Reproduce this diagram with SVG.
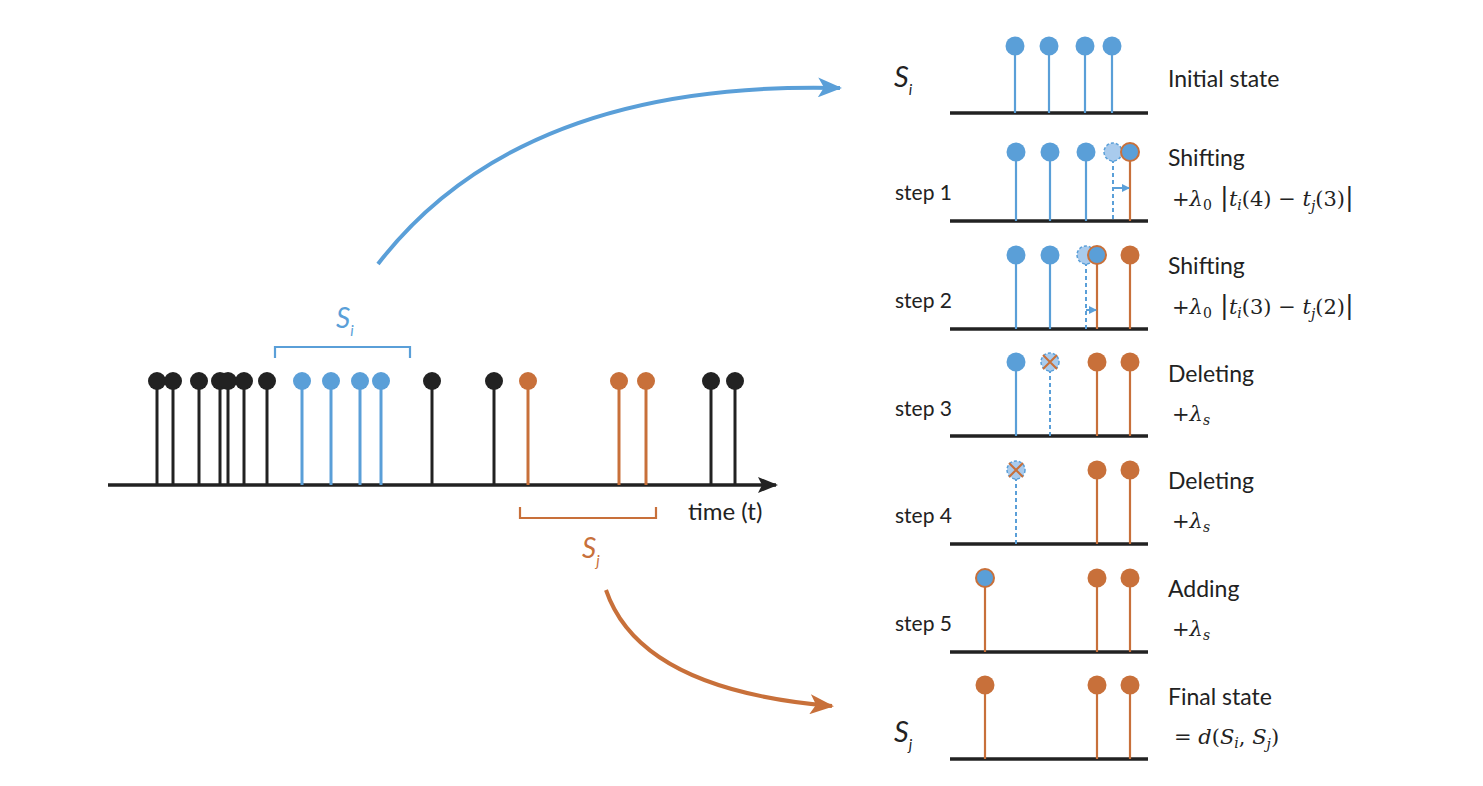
<svg xmlns="http://www.w3.org/2000/svg" width="1483" height="786" viewBox="0 0 1483 786">
<defs>
<style>
.ax{stroke:#222;stroke-width:3.5;fill:none}
.bk{stroke:#222;stroke-width:3}
.bl{stroke:#5a9fd8;stroke-width:3}
.or{stroke:#c8703a;stroke-width:3}
.bls{stroke:#5a9fd8;stroke-width:2.2}
.ors{stroke:#c8703a;stroke-width:2.2}
.dash{stroke:#5a9fd8;stroke-width:2;stroke-dasharray:4 3}
.dk{fill:#222}
.db{fill:#5a9fd8}
.do{fill:#c8703a}
.dob{fill:#5a9fd8;stroke:#c8703a;stroke-width:2}
.gh{fill:#a9cbed;stroke:#5a9fd8;stroke-width:1.5;stroke-dasharray:3 2}
.x{stroke:#c8703a;stroke-width:2}
.t{font-family:Lato,"Noto Sans",sans-serif;fill:#222}
.m{font-family:"DejaVu Serif","Liberation Serif",serif;fill:#222;font-size:21px}
.mi{font-style:italic}
</style>
<marker id="abl" viewBox="0 0 24 20" refX="22" refY="10" markerWidth="24" markerHeight="20" markerUnits="userSpaceOnUse" orient="auto">
<path d="M0,0 L24,10 L0,20 L6,10 Z" fill="#5a9fd8"/>
</marker>
<marker id="aor" viewBox="0 0 24 20" refX="22" refY="10" markerWidth="24" markerHeight="20" markerUnits="userSpaceOnUse" orient="auto">
<path d="M0,0 L24,10 L0,20 L6,10 Z" fill="#c8703a"/>
</marker>
<marker id="abk" viewBox="0 0 20 16" refX="18" refY="8" markerWidth="20" markerHeight="16" markerUnits="userSpaceOnUse" orient="auto">
<path d="M0,0 L20,8 L0,16 L4,8 Z" fill="#222"/>
</marker>
<marker id="sm" viewBox="0 0 8 8" refX="7" refY="4" markerWidth="8" markerHeight="8" markerUnits="userSpaceOnUse" orient="auto">
<path d="M0,0 L8,4 L0,8 Z" fill="#5a9fd8"/>
</marker>
</defs>

<g id="connectors">
<path d="M378,264 Q520,80 840,88" fill="none" stroke="#5a9fd8" stroke-width="4" marker-end="url(#abl)"/>
<path d="M606,590 Q640,690 832,706" fill="none" stroke="#c8703a" stroke-width="4" marker-end="url(#aor)"/>
</g>

<g id="timeline">
<line x1="108" y1="485" x2="776" y2="485" class="ax" marker-end="url(#abk)"/>
<g class="bk">
<line x1="157" y1="381" x2="157" y2="485"/><line x1="173" y1="381" x2="173" y2="485"/>
<line x1="199" y1="381" x2="199" y2="485"/><line x1="220" y1="381" x2="220" y2="485"/>
<line x1="228" y1="381" x2="228" y2="485"/><line x1="244" y1="381" x2="244" y2="485"/>
<line x1="267" y1="381" x2="267" y2="485"/><line x1="432" y1="381" x2="432" y2="485"/>
<line x1="494" y1="381" x2="494" y2="485"/><line x1="711" y1="381" x2="711" y2="485"/>
<line x1="735" y1="381" x2="735" y2="485"/>
</g>
<g class="dk">
<circle cx="157" cy="381" r="9"/><circle cx="173" cy="381" r="9"/><circle cx="199" cy="381" r="9"/>
<circle cx="220" cy="381" r="9"/><circle cx="228" cy="381" r="9"/><circle cx="244" cy="381" r="9"/>
<circle cx="267" cy="381" r="9"/><circle cx="432" cy="381" r="9"/><circle cx="494" cy="381" r="9"/>
<circle cx="711" cy="381" r="9"/><circle cx="735" cy="381" r="9"/>
</g>
<g class="bl">
<line x1="302" y1="381" x2="302" y2="485"/><line x1="331" y1="381" x2="331" y2="485"/>
<line x1="360" y1="381" x2="360" y2="485"/><line x1="381" y1="381" x2="381" y2="485"/>
</g>
<g class="db">
<circle cx="302" cy="381" r="9"/><circle cx="331" cy="381" r="9"/><circle cx="360" cy="381" r="9"/><circle cx="381" cy="381" r="9"/>
</g>
<g class="or">
<line x1="528" y1="381" x2="528" y2="485"/><line x1="619" y1="381" x2="619" y2="485"/><line x1="646" y1="381" x2="646" y2="485"/>
</g>
<g class="do">
<circle cx="528" cy="381" r="9"/><circle cx="619" cy="381" r="9"/><circle cx="646" cy="381" r="9"/>
</g>
<text x="688" y="520" class="t" font-size="24">time (t)</text>
</g>

<g id="bracket-si">
<path d="M275,358 V347 H410 V358" fill="none" stroke="#5a9fd8" stroke-width="2.2"/>
<text x="336" y="328" font-family="Lato,'Noto Sans',sans-serif" font-style="italic" font-size="28" fill="#5a9fd8">S<tspan font-size="15" dy="8">i</tspan></text>
</g>
<g id="bracket-sj">
<path d="M520,507 V518 H656 V507" fill="none" stroke="#c8703a" stroke-width="2.2"/>
<text x="582" y="558" font-family="Lato,'Noto Sans',sans-serif" font-style="italic" font-size="28" fill="#c8703a">S<tspan font-size="15" dy="8">j</tspan></text>
</g>

<g id="panel-initial">
<line x1="950" y1="113" x2="1148" y2="113" class="ax"/>
<g class="bls"><line x1="1015" y1="46" x2="1015" y2="113"/><line x1="1049" y1="46" x2="1049" y2="113"/><line x1="1085" y1="46" x2="1085" y2="113"/><line x1="1112" y1="46" x2="1112" y2="113"/></g>
<g class="db"><circle cx="1015" cy="46" r="9.5"/><circle cx="1049" cy="46" r="9.5"/><circle cx="1085" cy="46" r="9.5"/><circle cx="1112" cy="46" r="9.5"/></g>
<text x="894" y="87" class="t" font-style="italic" font-size="29">S<tspan font-size="15" dy="8">i</tspan></text>
<text x="1168" y="87" class="t" font-size="23">Initial state</text>
</g>

<g id="panel-step1">
<line x1="950" y1="221" x2="1148" y2="221" class="ax"/>
<g class="bls"><line x1="1016" y1="152" x2="1016" y2="221"/><line x1="1050" y1="152" x2="1050" y2="221"/><line x1="1086" y1="152" x2="1086" y2="221"/></g>
<line x1="1113" y1="152" x2="1113" y2="221" class="dash"/>
<line x1="1130" y1="152" x2="1130" y2="221" class="ors"/>
<line x1="1113" y1="188" x2="1129" y2="188" stroke="#5a9fd8" stroke-width="2" marker-end="url(#sm)"/>
<g class="db"><circle cx="1016" cy="152" r="9.5"/><circle cx="1050" cy="152" r="9.5"/><circle cx="1086" cy="152" r="9.5"/></g>
<circle cx="1113" cy="152" r="9" class="gh"/>
<circle cx="1130" cy="152" r="9" class="dob"/>
<text x="895" y="200" class="t" font-size="21">step 1</text>
<text x="1168" y="166" class="t" font-size="23">Shifting</text>
<text x="1172" y="206" class="m">+<tspan class="mi">λ</tspan><tspan font-size="14" dy="4">0</tspan><tspan dy="-4" font-size="26"> |</tspan><tspan class="mi">t</tspan><tspan class="mi" font-size="14" dy="4">i</tspan><tspan dy="-4">(4) − </tspan><tspan class="mi">t</tspan><tspan class="mi" font-size="14" dy="5">j</tspan><tspan dy="-5">(3)</tspan><tspan font-size="26">|</tspan></text>
</g>

<g id="panel-step2">
<line x1="950" y1="329" x2="1148" y2="329" class="ax"/>
<g class="bls"><line x1="1016" y1="255" x2="1016" y2="329"/><line x1="1050" y1="255" x2="1050" y2="329"/></g>
<line x1="1086" y1="255" x2="1086" y2="329" class="dash"/>
<line x1="1097" y1="255" x2="1097" y2="329" class="ors"/>
<line x1="1130" y1="255" x2="1130" y2="329" class="ors"/>
<line x1="1086" y1="310" x2="1096" y2="310" stroke="#5a9fd8" stroke-width="2" marker-end="url(#sm)"/>
<g class="db"><circle cx="1016" cy="255" r="9.5"/><circle cx="1050" cy="255" r="9.5"/></g>
<circle cx="1086" cy="255" r="9" class="gh"/>
<circle cx="1097" cy="255" r="9" class="dob"/>
<circle cx="1130" cy="255" r="9.5" class="do"/>
<text x="895" y="308" class="t" font-size="21">step 2</text>
<text x="1168" y="274" class="t" font-size="23">Shifting</text>
<text x="1172" y="314" class="m">+<tspan class="mi">λ</tspan><tspan font-size="14" dy="4">0</tspan><tspan dy="-4" font-size="26"> |</tspan><tspan class="mi">t</tspan><tspan class="mi" font-size="14" dy="4">i</tspan><tspan dy="-4">(3) − </tspan><tspan class="mi">t</tspan><tspan class="mi" font-size="14" dy="5">j</tspan><tspan dy="-5">(2)</tspan><tspan font-size="26">|</tspan></text>
</g>

<g id="panel-step3">
<line x1="950" y1="436" x2="1148" y2="436" class="ax"/>
<line x1="1016" y1="362" x2="1016" y2="436" class="bls"/>
<line x1="1050" y1="362" x2="1050" y2="436" class="dash"/>
<line x1="1097" y1="362" x2="1097" y2="436" class="ors"/>
<line x1="1130" y1="362" x2="1130" y2="436" class="ors"/>
<circle cx="1016" cy="362" r="9.5" class="db"/>
<circle cx="1050" cy="362" r="9" class="gh"/>
<path d="M1043,355 L1057,369 M1057,355 L1043,369" class="x"/>
<circle cx="1097" cy="362" r="9.5" class="do"/>
<circle cx="1130" cy="362" r="9.5" class="do"/>
<text x="895" y="416" class="t" font-size="21">step 3</text>
<text x="1168" y="382" class="t" font-size="23">Deleting</text>
<text x="1172" y="421" class="m">+<tspan class="mi">λ</tspan><tspan class="mi" font-size="14" dy="4">s</tspan></text>
</g>

<g id="panel-step4">
<line x1="950" y1="544" x2="1148" y2="544" class="ax"/>
<line x1="1016" y1="470" x2="1016" y2="544" class="dash"/>
<line x1="1097" y1="470" x2="1097" y2="544" class="ors"/>
<line x1="1130" y1="470" x2="1130" y2="544" class="ors"/>
<circle cx="1016" cy="470" r="9" class="gh"/>
<path d="M1009,463 L1023,477 M1023,463 L1009,477" class="x"/>
<circle cx="1097" cy="470" r="9.5" class="do"/>
<circle cx="1130" cy="470" r="9.5" class="do"/>
<text x="895" y="523" class="t" font-size="21">step 4</text>
<text x="1168" y="489" class="t" font-size="23">Deleting</text>
<text x="1172" y="528" class="m">+<tspan class="mi">λ</tspan><tspan class="mi" font-size="14" dy="4">s</tspan></text>
</g>

<g id="panel-step5">
<line x1="950" y1="652" x2="1148" y2="652" class="ax"/>
<line x1="985" y1="578" x2="985" y2="652" class="ors"/>
<line x1="1097" y1="578" x2="1097" y2="652" class="ors"/>
<line x1="1130" y1="578" x2="1130" y2="652" class="ors"/>
<circle cx="985" cy="578" r="9" class="dob"/>
<circle cx="1097" cy="578" r="9.5" class="do"/>
<circle cx="1130" cy="578" r="9.5" class="do"/>
<text x="895" y="631" class="t" font-size="21">step 5</text>
<text x="1168" y="597" class="t" font-size="23">Adding</text>
<text x="1172" y="636" class="m">+<tspan class="mi">λ</tspan><tspan class="mi" font-size="14" dy="4">s</tspan></text>
</g>

<g id="panel-final">
<line x1="950" y1="759" x2="1148" y2="759" class="ax"/>
<line x1="985" y1="685" x2="985" y2="759" class="ors"/>
<line x1="1097" y1="685" x2="1097" y2="759" class="ors"/>
<line x1="1130" y1="685" x2="1130" y2="759" class="ors"/>
<circle cx="985" cy="685" r="9.5" class="do"/>
<circle cx="1097" cy="685" r="9.5" class="do"/>
<circle cx="1130" cy="685" r="9.5" class="do"/>
<text x="894" y="742" class="t" font-style="italic" font-size="29">S<tspan font-size="15" dy="8">j</tspan></text>
<text x="1168" y="705" class="t" font-size="23">Final state</text>
<text x="1174" y="744" class="m">= <tspan class="mi">d</tspan>(<tspan class="mi">S</tspan><tspan class="mi" font-size="14" dy="4">i</tspan><tspan dy="-4">, </tspan><tspan class="mi">S</tspan><tspan class="mi" font-size="14" dy="5">j</tspan><tspan dy="-5">)</tspan></text>
</g>
</svg>
